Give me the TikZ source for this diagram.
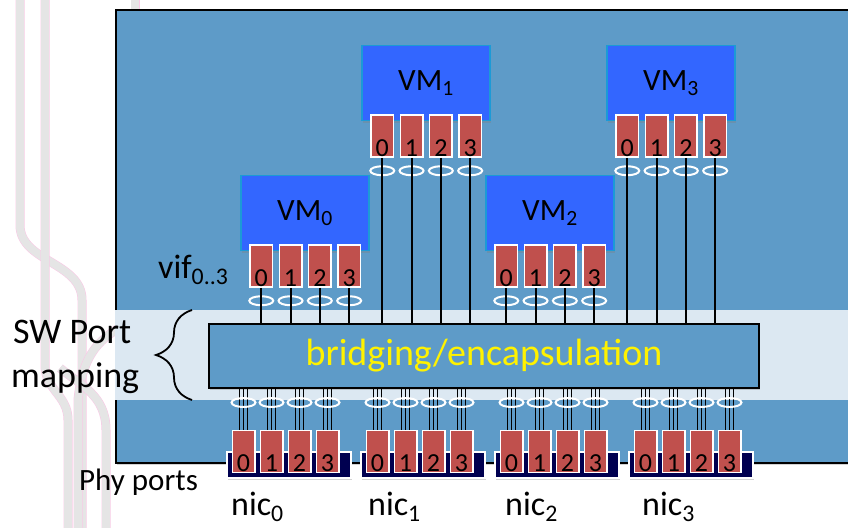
\documentclass[tikz,border=0pt]{standalone}
\usepackage{fontspec}
\setmainfont{Carlito}
\usetikzlibrary{positioning,shapes.geometric,decorations.pathreplacing,shadows}

\definecolor{hostblue}{HTML}{5E9BC8}
\definecolor{bandblue}{HTML}{DCE8F2}
\definecolor{vmblue}{HTML}{3366FF}
\definecolor{vmedge}{HTML}{1C9AD6}
\definecolor{portred}{HTML}{C0504D}
\definecolor{nicnavy}{HTML}{000050}

\begin{document}
\begin{tikzpicture}[
  x=1pt,
  y=-1pt,
  track/.style={
    draw=magenta!22,
    double=gray!20,
    double distance=8pt,
    line width=0.5pt
  },
  softshadow/.style={
    drop shadow={opacity=0.35,shadow xshift=1pt,shadow yshift=-2pt}
  },
  vm/.style={
    draw=vmedge,
    line width=1.5pt,
    fill=vmblue,
    minimum width=128pt,
    minimum height=75pt,
    inner sep=0pt,
    softshadow,
    font=\fontsize{31}{33}\selectfont
  },
  vport/.style={
    draw=white,
    line width=1.5pt,
    fill=portred,
    minimum width=22.5pt,
    minimum height=42pt,
    inner sep=0pt
  },
  digit/.style={
    anchor=south,
    inner sep=1pt,
    font=\fontsize{26}{28}\selectfont
  },
  ring/.style={
    ellipse,
    draw=white,
    line width=2pt,
    minimum width=24pt,
    minimum height=9pt,
    inner sep=0pt
  },
  nicbase/.style={
    draw=white,
    line width=2pt,
    fill=nicnavy,
    minimum width=124pt,
    minimum height=26pt,
    inner sep=0pt,
    softshadow
  },
  wire/.style={draw=black,line width=2pt},
  thinwire/.style={draw=black,line width=1.3pt},
  label/.style={anchor=base west,inner sep=0pt,font=\fontsize{34}{36}\selectfont}
]
  \useasboundingbox (0,0) rectangle (848,527);
  \clip (0,0) rectangle (848,527);

  % background tracks on the left
  \draw[track] (20,-10) -- (20,225) .. controls (20,262) and (82,262) .. (82,300)
    -- (82,380) .. controls (82,395) and (82,405) .. (82,425) -- (82,540);
  \draw[track] (45,-10) -- (45,365) .. controls (45,390) and (68,395) .. (68,420) -- (68,540);
  \draw[track] (125,325) .. controls (95,340) and (82,360) .. (78,400) -- (78,540);
  \draw[track] (60,368) .. controls (80,385) and (106,395) .. (106,430) -- (106,540);
  \draw[track] (135,-10) -- (135,20);

  % host and switch layer
  \draw[fill=hostblue,line width=2pt,softshadow] (116,10) rectangle (880,463);
  \fill[bandblue] (115,310) rectangle (880,400);
  \node[draw=black,line width=2pt,fill=hostblue,softshadow,minimum width=550pt,
    minimum height=64pt,inner sep=0pt,text=yellow,font=\fontsize{38}{40}\selectfont]
    (bridge) at (484,356) {bridging/encapsulation};

  % virtual machines with their vifs
  \foreach \i/\x/\y in {0/240/175, 1/361/45, 2/485/175, 3/606/45} {
    \node[vm] (vm\i) at (\x+65,\y+38) {VM\textsubscript{\i}};
    \foreach \j in {0,...,3} {
      \node[vport,anchor=north] (vm\i p\j)
        at ([xshift=21pt+29.3pt*\j,yshift=7pt]vm\i.south west) {};
      \node[digit] at (vm\i p\j.south) {\j};
      \node[ring] (vm\i r\j) at ([yshift=-13pt]vm\i p\j.south) {};
      \draw[wire] (vm\i p\j.south) -- (vm\i p\j.south |- bridge.north);
    }
  }

  % physical nics
  \foreach \k in {0,...,3} {
    \node[nicbase] (nic\k) at (289+134*\k,465) {};
    \foreach \j in {0,...,3} {
      \node[vport,anchor=south] (nic\k p\j)
        at ([xshift=17.5pt+28pt*\j,yshift=6pt]nic\k.south west) {};
      \node[digit] at (nic\k p\j.south) {\j};
      \foreach \d in {-4.3,0,4.3} {
        \coordinate (w) at ([xshift=\d pt]nic\k p\j.north);
        \draw[thinwire] (w) -- (w |- bridge.south);
      }
      \node[ring] (nic\k r\j) at ([yshift=27pt]nic\k p\j.north) {};
    }
    \node[label] (niclabel\k) at (231+137*\k,515) {nic\textsubscript{\k}};
  }

  % labels
  \node[label] (vif) at (158,278) {vif\textsubscript{0..3}};
  \node[label,font=\fontsize{36}{38}\selectfont] (swport) at (13,343) {SW Port};
  \node[label,font=\fontsize{36}{38}\selectfont] (mapping) at (11,387) {mapping};
  \node[label,font=\fontsize{31}{33}\selectfont] (phy) at (79,490) {Phy ports};
  \draw[decorate,decoration={brace,amplitude=36pt,aspect=0.5},line width=1.8pt]
    (192,400) -- (192,310);
\end{tikzpicture}
\end{document}
